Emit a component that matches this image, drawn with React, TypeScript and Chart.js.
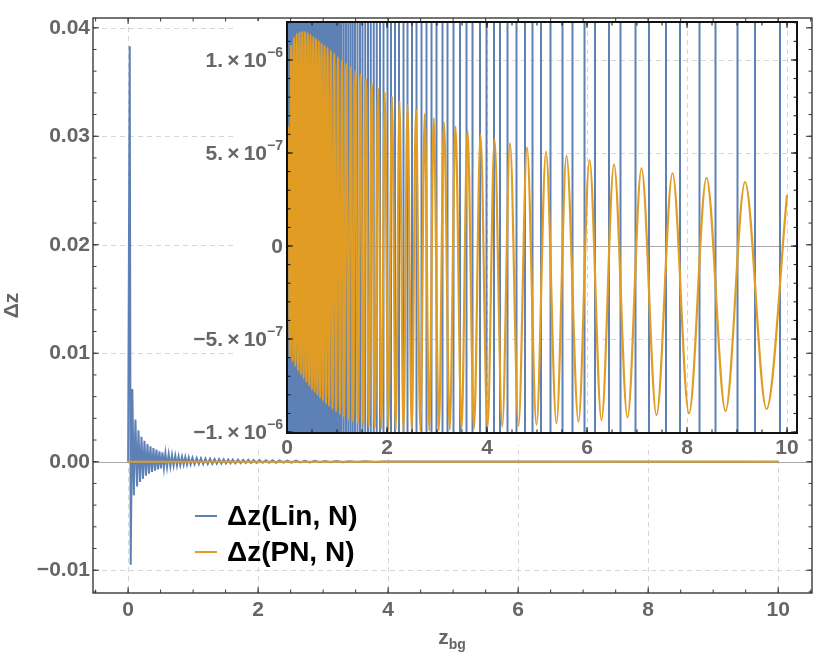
import { useEffect, useRef } from 'react'
import Chart from 'chart.js/auto'

const BLUE = '#5E81B5'
const ORANGE = '#E19C24'
const LABEL_GRAY = '#666666'
const GRID_GRAY = '#d6d6d6'
const FONT = "'Liberation Sans', Arial, sans-serif"

const seriesNames = ['Δz(Lin, N)', 'Δz(PN, N)']

// main panel ticks
const mainXTicks = [0, 2, 4, 6, 8, 10]
const mainYTicks = [-0.01, 0, 0.01, 0.02, 0.03, 0.04]
const mainYLabels = ['−0.01', '0.00', '0.01', '0.02', '0.03', '0.04']

// inset ticks (inset y values are in units of 1e-6)
const insetXTicks = [0, 2, 4, 6, 8, 10]
const insetYTicks = [-1, -0.5, 0, 0.5, 1]
const insetYLabels: [string, string][] = [
  ['−1.\u2009×\u200910', '−6'],
  ['−5.\u2009×\u200910', '−7'],
  ['0', ''],
  ['5.\u2009×\u200910', '−7'],
  ['1.\u2009×\u200910', '−6'],
]

// Δz(Lin, N): extrema
const linX = [
  0, 0.025, 0.04, 0.065, 0.088, 0.113, 0.138, 0.16, 0.184, 0.206, 0.229, 0.252, 0.275, 0.298,
  0.321, 0.344, 0.367, 0.39, 0.413, 0.436, 0.459, 0.482, 0.505, 0.528, 0.551, 0.574, 0.599,
  0.624, 0.65, 0.675, 0.7, 0.726, 0.752, 0.777, 0.803, 0.829, 0.855, 0.88, 0.906, 0.932, 0.961,
  0.99, 1.022, 1.055, 1.088, 1.12, 1.155, 1.19, 1.225, 1.26, 1.295, 1.33, 1.365, 1.4, 1.435,
  1.47, 1.505, 1.54, 1.575, 1.61, 1.65, 1.69, 1.73, 1.77, 1.81, 1.85, 1.89, 1.93, 1.975, 2.02,
  2.07, 2.12, 2.17, 2.22, 2.275, 2.33, 2.39, 2.45, 2.515, 2.58, 2.65, 2.72, 2.795, 2.87, 2.95,
  3.03, 3.115, 3.2, 3.3, 3.4, 3.52, 3.65, 3.8, 3.95, 10,
]
const linY = [
  0, 0.0383, -0.0095, 0.0067, -0.0031, 0.0039, -0.00227, 0.0029, -0.00187, 0.0023, -0.00157,
  0.00194, -0.00129, 0.00163, -0.00111, 0.00141, -0.00095, 0.00126, -0.00083, 0.00111, -0.00071,
  0.00095, -0.00061, 0.00086, -0.00055, 0.00077, -0.00049, 0.00068, -0.00043, 0.00061, -0.00037,
  0.00055, -0.00034, 0.00049, -0.00031, 0.00046, -0.00028, 0.00043, -0.00026, 0.0004, -0.00025,
  0.00037, -0.00023, 0.00034, -0.00022, 0.00031, -0.00021, 0.00029, -0.0002, 0.00027, -0.00019,
  0.00025, -0.00018, 0.00024, -0.00017, 0.00022, -0.00016, 0.00021, -0.00015, 0.0002, -0.00014,
  0.00019, -0.00013, 0.00018, -0.00012, 0.00017, -0.00012, 0.00016, -0.00011, 0.00015, -0.0001,
  0.00014, -0.0001, 0.00013, -0.00009, 0.00012, -0.00008, 0.00011, -0.00008, 0.0001, -0.00007,
  0.00009, -0.00006, 0.00008, -0.00005, 0.00007, -0.00005, 0.00006, -0.00004, 0.00005, -0.00003,
  0.00004, -0.00002, 0.00003, 0,
]

// Δz(Lin, N) in the inset: it runs far off-scale, so only its crossings of the window show
const linInsetCrossings = [
  0.005, 0.035, 0.065, 0.095, 0.125, 0.155, 0.185, 0.215, 0.245, 0.275, 0.305, 0.335, 0.365,
  0.395, 0.425, 0.455, 0.485, 0.515, 0.545, 0.575, 0.605, 0.635, 0.665, 0.695, 0.725, 0.755,
  0.785, 0.815, 0.845, 0.875, 0.905, 0.935, 0.97, 1.01, 1.05, 1.09, 1.135, 1.18, 1.225, 1.27,
  1.315, 1.36, 1.41, 1.46, 1.51, 1.565, 1.62, 1.675, 1.735, 1.795, 1.86, 1.93, 2.01, 2.08, 2.16,
  2.24, 2.33, 2.41, 2.5, 2.59, 2.69, 2.79, 2.89, 2.99, 3.11, 3.21, 3.33, 3.46, 3.59, 3.71, 3.86,
  3.99, 4.14, 4.26, 4.41, 4.59, 4.76, 4.91, 5.08, 5.27, 5.51, 5.71, 5.95, 6.16, 6.44, 6.67, 6.97,
  7.24, 7.58, 7.86, 8.25, 8.57, 9.01, 9.36, 9.86,
]
const LIN_OFFSCALE = 3 // ×1e-6, beyond the inset window

// Δz(PN, N): extrema, in units of 1e-6
const pnX = [
  0, 0.03, 0.058, 0.085, 0.112, 0.14, 0.167, 0.195, 0.222, 0.25, 0.277, 0.305, 0.332, 0.36,
  0.387, 0.415, 0.442, 0.47, 0.497, 0.525, 0.552, 0.58, 0.607, 0.635, 0.662, 0.69, 0.72, 0.75,
  0.78, 0.81, 0.842, 0.875, 0.91, 0.945, 0.982, 1.02, 1.06, 1.1, 1.142, 1.185, 1.23, 1.275,
  1.322, 1.37, 1.42, 1.47, 1.525, 1.58, 1.637, 1.695, 1.757, 1.82, 1.887, 1.955, 2.027, 2.1,
  2.175, 2.25, 2.33, 2.41, 2.495, 2.58, 2.667, 2.755, 2.845, 2.935, 3.037, 3.14, 3.255, 3.37,
  3.49, 3.61, 3.74, 3.87, 4.01, 4.15, 4.305, 4.46, 4.63, 4.8, 4.99, 5.18, 5.39, 5.59, 5.83,
  6.05, 6.29, 6.54, 6.81, 7.09, 7.39, 7.71, 8.04, 8.39, 8.77, 9.16, 9.59, 10,
]
const pnMicro = [
  0, 0.64, -0.6, 1.08, -0.62, 1.12, -0.645, 1.14, -0.67, 1.15, -0.69, 1.152, -0.71, 1.152,
  -0.73, 1.146, -0.75, 1.135, -0.77, 1.124, -0.785, 1.115, -0.8, 1.103, -0.815, 1.09, -0.83,
  1.078, -0.845, 1.065, -0.86, 1.05, -0.875, 1.034, -0.89, 1.016, -0.905, 0.998, -0.918, 0.98,
  -0.93, 0.96, -0.943, 0.94, -0.953, 0.92, -0.962, 0.897, -0.97, 0.875, -0.977, 0.85, -0.983,
  0.826, -0.988, 0.803, -0.991, 0.78, -0.993, 0.757, -0.994, 0.735, -0.994, 0.71, -0.993, 0.688,
  -0.991, 0.665, -0.988, 0.642, -0.985, 0.622, -0.981, 0.598, -0.977, 0.575, -0.972, 0.553,
  -0.967, 0.53, -0.962, 0.507, -0.953, 0.484, -0.944, 0.462, -0.935, 0.439, -0.921, 0.418,
  -0.909, 0.391, -0.9, 0.367, -0.887, 0.344, -0.876, 0.274,
]

function steps(from: number, to: number, step: number) {
  const out: number[] = []
  const n = Math.round((to - from) / step)
  for (let i = 0; i <= n; i++) out.push(+(from + i * step).toFixed(6))
  return out
}

type Frame = {
  xMajor: number[]
  xMinor: number[]
  yMajor: number[]
  yMinor: number[]
  xGrid: number[]
  yGrid: number[]
  frameColor: string
  frameWidth: number
  bg?: [number, number, number, number]
}

function framePlugin(f: Frame) {
  return {
    id: 'mmaFrame',
    beforeDraw(chart: any) {
      if (!f.bg) return
      const { ctx, chartArea: a } = chart
      ctx.save()
      ctx.fillStyle = '#ffffff'
      ctx.fillRect(a.left - f.bg[0], a.top - f.bg[1], a.width + f.bg[0] + f.bg[2], a.height + f.bg[1] + f.bg[3])
      ctx.restore()
    },
    beforeDatasetsDraw(chart: any) {
      const { ctx, chartArea: a, scales } = chart
      const x = scales.x
      const y = scales.y
      ctx.save()
      ctx.lineWidth = 1
      ctx.strokeStyle = GRID_GRAY
      ctx.setLineDash([5, 4])
      for (const v of f.xGrid) {
        const px = Math.round(x.getPixelForValue(v)) + 0.5
        ctx.beginPath()
        ctx.moveTo(px, a.top)
        ctx.lineTo(px, a.bottom)
        ctx.stroke()
      }
      for (const v of f.yGrid) {
        const py = Math.round(y.getPixelForValue(v)) + 0.5
        ctx.beginPath()
        ctx.moveTo(a.left, py)
        ctx.lineTo(a.right, py)
        ctx.stroke()
      }
      ctx.setLineDash([])
      ctx.strokeStyle = '#a8a8a8'
      const zy = Math.round(y.getPixelForValue(0)) + 0.5
      ctx.beginPath()
      ctx.moveTo(a.left, zy)
      ctx.lineTo(a.right, zy)
      ctx.stroke()
      ctx.restore()
    },
    afterDraw(chart: any) {
      const { ctx, chartArea: a, scales } = chart
      const x = scales.x
      const y = scales.y
      ctx.save()
      ctx.strokeStyle = f.frameColor
      ctx.lineWidth = 1
      const tick = (vals: number[], len: number) => {
        for (const v of vals) {
          const px = x.getPixelForValue(v)
          if (px < a.left - 0.5 || px > a.right + 0.5) continue
          ctx.beginPath()
          ctx.moveTo(px, a.bottom)
          ctx.lineTo(px, a.bottom - len)
          ctx.moveTo(px, a.top)
          ctx.lineTo(px, a.top + len)
          ctx.stroke()
        }
      }
      const tickY = (vals: number[], len: number) => {
        for (const v of vals) {
          const py = y.getPixelForValue(v)
          if (py < a.top - 0.5 || py > a.bottom + 0.5) continue
          ctx.beginPath()
          ctx.moveTo(a.left, py)
          ctx.lineTo(a.left + len, py)
          ctx.moveTo(a.right, py)
          ctx.lineTo(a.right - len, py)
          ctx.stroke()
        }
      }
      tick(f.xMajor, 6)
      tick(f.xMinor, 3.5)
      tickY(f.yMajor, 6)
      tickY(f.yMinor, 3.5)
      ctx.lineWidth = f.frameWidth
      ctx.strokeRect(a.left, a.top, a.width, a.height)
      ctx.restore()
    },
  }
}

const insetYLabelPlugin = {
  id: 'insetYLabels',
  afterDraw(chart: any) {
    const { ctx, chartArea: a, scales } = chart
    const right = a.left - 4
    ctx.save()
    ctx.fillStyle = LABEL_GRAY
    ctx.textBaseline = 'middle'
    ctx.textAlign = 'left'
    insetYTicks.forEach((v, i) => {
      const [mant, exp] = insetYLabels[i]
      const py = scales.y.getPixelForValue(v)
      ctx.font = `bold 14px ${FONT}`
      const ew = exp ? ctx.measureText(exp).width : 0
      ctx.font = `bold 21px ${FONT}`
      const mw = ctx.measureText(mant).width
      ctx.fillText(mant, right - ew - mw, py + 1)
      if (exp) {
        ctx.font = `bold 14px ${FONT}`
        ctx.fillText(exp, right - ew, py - 7)
      }
    })
    ctx.restore()
  },
}

const tickFont = { family: FONT, size: 21, weight: 'bold' as const }

function MainChart() {
  const chartRef = useRef<HTMLCanvasElement>(null)
  const chartInstance = useRef<Chart | null>(null)

  useEffect(() => {
    if (!chartRef.current) return
    if (chartInstance.current) chartInstance.current.destroy()

    chartInstance.current = new Chart(chartRef.current, {
      type: 'line',
      data: {
        datasets: [
          {
            label: seriesNames[0],
            data: linX.map((x, i) => ({ x, y: linY[i] })),
            borderColor: BLUE,
            borderWidth: 2,
            pointRadius: 0,
            order: 2,
          },
          {
            label: seriesNames[1],
            data: pnX.map((x, i) => ({ x, y: pnMicro[i] * 1e-6 })),
            borderColor: ORANGE,
            borderWidth: 2,
            pointRadius: 0,
            order: 1,
          },
        ],
      },
      options: {
        animation: false,
        responsive: false,
        layout: { padding: { left: 0, top: 18, right: 19, bottom: 0 } },
        plugins: { legend: { display: false }, tooltip: { enabled: false } },
        scales: {
          x: {
            type: 'linear',
            min: -0.54,
            max: 10.52,
            grid: { display: false, drawTicks: false },
            border: { display: false },
            afterBuildTicks: (s: any) => {
              s.ticks = mainXTicks.map((value) => ({ value }))
            },
            afterFit: (s: any) => {
              s.height = 69
            },
            ticks: {
              font: tickFont,
              color: LABEL_GRAY,
              padding: 5,
              maxRotation: 0,
              autoSkip: false,
              callback: (v: any) => String(v),
            },
          },
          y: {
            type: 'linear',
            min: -0.0121,
            max: 0.0409,
            grid: { display: false, drawTicks: false },
            border: { display: false },
            afterBuildTicks: (s: any) => {
              s.ticks = mainYTicks.map((value) => ({ value }))
            },
            afterFit: (s: any) => {
              s.width = 93
            },
            ticks: {
              font: tickFont,
              color: LABEL_GRAY,
              padding: 3,
              autoSkip: false,
              callback: (_v: any, i: number) => mainYLabels[i],
            },
            title: {
              display: true,
              text: 'Δz',
              color: LABEL_GRAY,
              font: { family: FONT, size: 21, weight: 'bold' },
              padding: { top: 0, bottom: 0 },
            },
          },
        },
      },
      plugins: [
        framePlugin({
          xMajor: mainXTicks,
          xMinor: steps(-0.5, 10.5, 0.5),
          yMajor: mainYTicks,
          yMinor: steps(-0.012, 0.04, 0.002),
          xGrid: mainXTicks,
          yGrid: mainYTicks.filter((v) => v !== 0),
          frameColor: '#3a3a3a',
          frameWidth: 1.4,
        }),
      ],
    } as any)

    return () => {
      if (chartInstance.current) {
        chartInstance.current.destroy()
        chartInstance.current = null
      }
    }
  }, [])

  return (
    <canvas ref={chartRef} width={831} height={662} style={{ position: 'absolute', left: 0, top: 0 }} />
  )
}

function InsetChart() {
  const chartRef = useRef<HTMLCanvasElement>(null)
  const chartInstance = useRef<Chart | null>(null)

  useEffect(() => {
    if (!chartRef.current) return
    if (chartInstance.current) chartInstance.current.destroy()

    const linStrokes = linInsetCrossings.flatMap((x, i) =>
      i % 2 === 0
        ? [{ x, y: LIN_OFFSCALE }, { x, y: -LIN_OFFSCALE }]
        : [{ x, y: -LIN_OFFSCALE }, { x, y: LIN_OFFSCALE }],
    )

    chartInstance.current = new Chart(chartRef.current, {
      type: 'line',
      data: {
        datasets: [
          {
            label: seriesNames[0],
            data: linStrokes,
            borderColor: BLUE,
            borderWidth: 2,
            pointRadius: 0,
            order: 2,
          },
          {
            label: seriesNames[1],
            data: pnX.map((x, i) => ({ x, y: pnMicro[i] })),
            borderColor: ORANGE,
            borderWidth: 2.2,
            pointRadius: 0,
            cubicInterpolationMode: 'monotone',
            order: 1,
          },
        ],
      },
      options: {
        animation: false,
        responsive: false,
        layout: { padding: { left: 0, top: 8, right: 13, bottom: 0 } },
        plugins: { legend: { display: false }, tooltip: { enabled: false } },
        scales: {
          x: {
            type: 'linear',
            min: 0,
            max: 10.2,
            grid: { display: false, drawTicks: false },
            border: { display: false },
            afterBuildTicks: (s: any) => {
              s.ticks = insetXTicks.map((value) => ({ value }))
            },
            afterFit: (s: any) => {
              s.height = 31
            },
            ticks: {
              font: tickFont,
              color: LABEL_GRAY,
              padding: 3,
              maxRotation: 0,
              autoSkip: false,
              callback: (v: any) => String(v),
            },
          },
          y: {
            type: 'linear',
            min: -1.005,
            max: 1.204,
            grid: { display: false, drawTicks: false },
            border: { display: false },
            ticks: { display: false },
            afterFit: (s: any) => {
              s.width = 107
            },
          },
        },
      },
      plugins: [
        framePlugin({
          xMajor: insetXTicks,
          xMinor: steps(0, 10, 0.5),
          yMajor: insetYTicks,
          yMinor: steps(-1, 1.2, 0.1),
          xGrid: [2, 4, 6, 8, 10],
          yGrid: [-1, -0.5, 0.5, 1],
          frameColor: '#111111',
          frameWidth: 2,
          bg: [54, 1, 9, 12],
        }),
        insetYLabelPlugin,
      ],
    } as any)

    return () => {
      if (chartInstance.current) {
        chartInstance.current.destroy()
        chartInstance.current = null
      }
    }
  }, [])

  return (
    <canvas ref={chartRef} width={630} height={450} style={{ position: 'absolute', left: 180, top: 14 }} />
  )
}

function Legend() {
  const colors = [BLUE, ORANGE]
  return (
    <>
      {seriesNames.map((name, i) => (
        <div
          key={name}
          style={{ position: 'absolute', left: 195, top: 502 + i * 36, height: 28, display: 'flex', alignItems: 'center' }}
        >
          <div style={{ width: 22, height: 2, background: colors[i], marginRight: 10 }} />
          <span style={{ font: `bold 28px ${FONT}`, lineHeight: '28px', color: '#000', whiteSpace: 'nowrap' }}>{name}</span>
        </div>
      ))}
    </>
  )
}

function XTitle() {
  return (
    <div
      style={{
        position: 'absolute',
        left: 352,
        width: 200,
        top: 625,
        textAlign: 'center',
        font: `bold 21px ${FONT}`,
        lineHeight: '24px',
        color: LABEL_GRAY,
      }}
    >
      z<span style={{ fontSize: 14, position: 'relative', top: 5 }}>bg</span>
    </div>
  )
}

export default function App() {
  return (
    <div style={{ position: 'fixed', left: 0, top: 0, width: 831, height: 662, background: '#fff', overflow: 'hidden' }}>
      <MainChart />
      <InsetChart />
      <Legend />
      <XTitle />
    </div>
  )
}
